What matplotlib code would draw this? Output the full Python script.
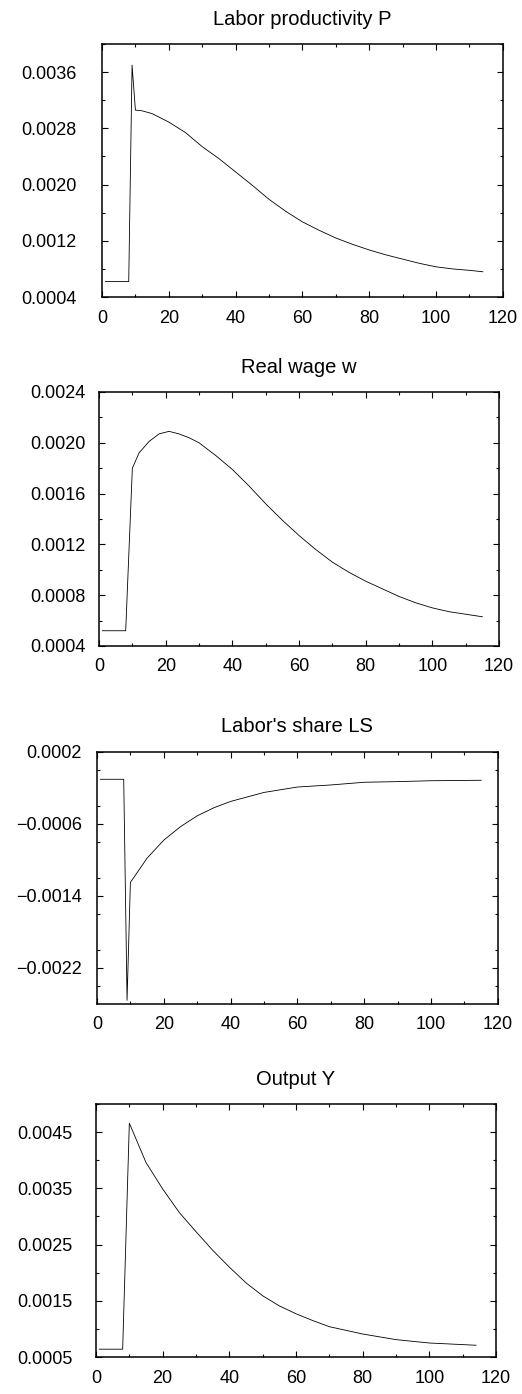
import numpy as np
import matplotlib
matplotlib.use("Agg")
from matplotlib import pyplot as plt
from matplotlib.ticker import MultipleLocator, FuncFormatter

plt.rcParams['font.family'] = ['Liberation Sans', 'DejaVu Sans']

# labor productivity P
p_t = [1, 8, 9, 10, 12, 15, 20, 25, 30, 35, 40, 45, 50, 55, 60, 65, 70,
       75, 80, 85, 90, 95, 100, 105, 110, 114]
p_val = [0.00062, 0.00062, 0.00370, 0.00306, 0.00305, 0.00301, 0.00289,
         0.00274, 0.00254, 0.00237, 0.00218, 0.00199, 0.00179, 0.00162,
         0.00147, 0.00135, 0.00124, 0.00115, 0.00107, 0.00100, 0.00094,
         0.00088, 0.00083, 0.00080, 0.00078, 0.00076]

# real wage w
w_t = [1, 8, 10, 12, 15, 18, 21, 24, 27, 30, 35, 40, 45, 50, 55, 60, 65,
       70, 75, 80, 85, 90, 95, 100, 105, 110, 115]
w_val = [0.00052, 0.00052, 0.00180, 0.00192, 0.00201, 0.00207, 0.00209,
         0.00207, 0.00204, 0.00200, 0.00190, 0.00179, 0.00166, 0.00152,
         0.00139, 0.00127, 0.00116, 0.00106, 0.00098, 0.00091, 0.00085,
         0.00079, 0.00074, 0.00070, 0.00067, 0.00065, 0.00063]

# labor's share LS
ls_t = [1, 8, 9, 10, 15, 20, 25, 30, 35, 40, 45, 50, 55, 60, 70, 80, 90,
        100, 115]
ls_val = [-0.000104, -0.000104, -0.00256, -0.00125, -0.00098, -0.00078,
          -0.00063, -0.00051, -0.00042, -0.00035, -0.00030, -0.00025,
          -0.00022, -0.00019, -0.000167, -0.000137, -0.00013, -0.00012,
          -0.000115]

# output Y
y_t = [1, 8, 10, 15, 20, 25, 30, 35, 40, 45, 50, 55, 60, 65, 70, 80, 90,
       100, 114]
y_val = [0.00064, 0.00064, 0.00466, 0.00396, 0.00349, 0.00307, 0.00273,
         0.00240, 0.00210, 0.00182, 0.00159, 0.00141, 0.00127, 0.00115,
         0.00104, 0.00091, 0.00081, 0.00075, 0.00071]

titles = ["Labor productivity P", "Real wage w", "Labor's share LS", "Output Y"]

fig = plt.figure(figsize=(5.22, 13.94), dpi=100)

panels = [
    # (t, values, rect, ylim, yticks, minor, ypad)
    (p_t, p_val, [0.1954, 0.7869, 0.768, 0.1815], (0.0004, 0.0040),
     [0.0004, 0.0012, 0.0020, 0.0028, 0.0036], 0.0004, 18),
    (w_t, w_val, [0.1897, 0.5366, 0.7663, 0.1822], (0.0004, 0.0024),
     [0.0004, 0.0008, 0.0012, 0.0016, 0.0020, 0.0024], 0.0002, 10),
    (ls_t, ls_val, [0.1858, 0.2798, 0.768, 0.1808], (-0.0026, 0.0002),
     [0.0002, -0.0006, -0.0014, -0.0022], 0.0004, 11),
    (y_t, y_val, [0.1839, 0.0265, 0.7663, 0.1815], (0.0005, 0.0050),
     [0.0005, 0.0015, 0.0025, 0.0035, 0.0045], 0.0005, 17),
]

fmt = FuncFormatter(lambda v, pos: ("%.4f" % v).replace("-", "\u2212"))

for i, (t, vals, rect, ylim, yticks, minor, ypad) in enumerate(panels):
    ax = fig.add_axes(rect)
    ax.plot(t, vals, color="black", lw=0.6)
    ax.set_xlim(0, 120)
    ax.set_ylim(*ylim)
    ax.set_xticks([0, 20, 40, 60, 80, 100, 120])
    ax.xaxis.set_minor_locator(MultipleLocator(10))
    ax.set_yticks(yticks)
    ax.yaxis.set_minor_locator(MultipleLocator(minor))
    ax.yaxis.set_major_formatter(fmt)
    ax.tick_params(which="both", direction="in", top=True, right=True,
                   width=0.8, labelsize=13)
    ax.tick_params(which="major", length=4)
    ax.tick_params(which="minor", length=2.5)
    ax.tick_params(axis="y", pad=ypad)
    ax.tick_params(axis="x", pad=9)
    for s in ax.spines.values():
        s.set_linewidth(1.1)
    ax.set_title(titles[i], fontsize=14.5, pad=14)

fig.savefig("out.png", dpi=100)
